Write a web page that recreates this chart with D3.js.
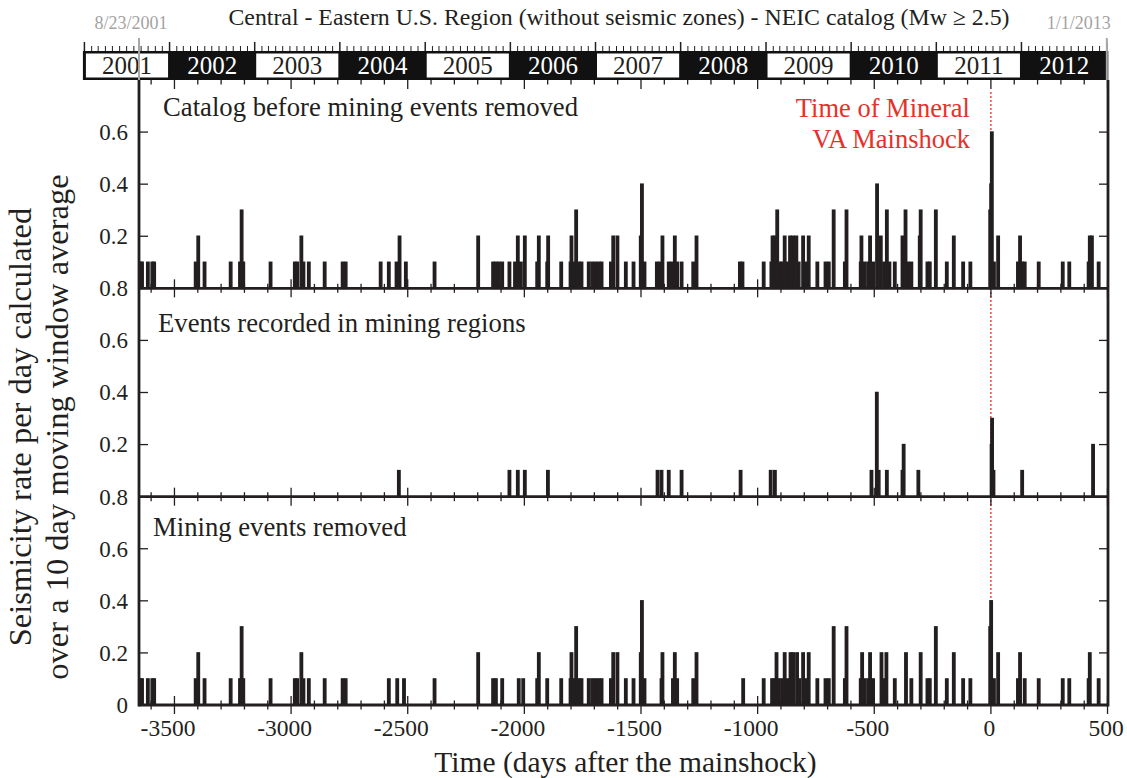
<!DOCTYPE html>
<html>
<head>
<meta charset="utf-8">
<script src="https://cdn.jsdelivr.net/npm/d3@7"></script>
<style>
  body { margin: 0; background: #fff; }
  text { font-family: "Liberation Serif", "Times New Roman", serif; }
</style>
</head>
<body>
<svg id="chart" width="1127" height="778"></svg>
<script>
'use strict'

// ---- data (days after the 2011-08-23 Mineral, VA mainshock, 10-day window rate) ----
const dayDomain = [-3652, 502]
const yearLabels = ['2001', '2002', '2003', '2004', '2005', '2006', '2007', '2008', '2009', '2010', '2011', '2012']
const xTickLabels = [-3500, -3000, -2500, -2000, -1500, -1000, -500, 0, 500]
const panelTitles = ['Catalog before mining events removed', 'Events recorded in mining regions', 'Mining events removed']

const catalogRate = [
  [-3650, 0.1], [-3644, 0.1], [-3619, 0.1], [-3600, 0.1], [-3592, 0.1],
  [-3414, 0.1], [-3403, 0.2], [-3376, 0.1], [-3264, 0.1], [-3224, 0.1], [-3217, 0.3], [-3210, 0.1],
  [-3093, 0.1], [-2989, 0.1], [-2979, 0.1], [-2961, 0.2], [-2952, 0.1], [-2929, 0.1], [-2861, 0.1],
  [-2784, 0.1], [-2771, 0.1], [-2621, 0.1], [-2586, 0.1], [-2553, 0.1], [-2540, 0.2], [-2513, 0.1],
  [-2390, 0.1], [-2203, 0.2], [-2139, 0.1], [-2127, 0.1], [-2114, 0.1], [-2100, 0.1], [-2069, 0.1],
  [-2045, 0.1], [-2033, 0.2], [-2020, 0.1], [-2003, 0.2], [-1950, 0.1], [-1943, 0.2], [-1907, 0.1],
  [-1903, 0.2], [-1847, 0.1], [-1807, 0.1], [-1803, 0.2], [-1793, 0.1], [-1783, 0.3], [-1771, 0.1],
  [-1760, 0.1], [-1729, 0.1], [-1714, 0.1], [-1700, 0.1], [-1686, 0.1], [-1674, 0.1],
  [-1634, 0.1], [-1624, 0.2], [-1606, 0.2], [-1570, 0.1], [-1537, 0.1], [-1506, 0.2], [-1501, 0.4],
  [-1490, 0.1], [-1437, 0.1], [-1425, 0.1], [-1413, 0.2], [-1386, 0.1], [-1374, 0.1], [-1360, 0.2],
  [-1350, 0.1], [-1331, 0.1], [-1281, 0.1], [-1267, 0.2], [-1081, 0.1], [-1070, 0.1], [-979, 0.1],
  [-946, 0.1], [-941, 0.2], [-931, 0.2], [-921, 0.3], [-910, 0.1], [-900, 0.1], [-889, 0.2],
  [-877, 0.1], [-866, 0.2], [-853, 0.2], [-839, 0.2], [-829, 0.1], [-810, 0.2], [-796, 0.1],
  [-786, 0.2], [-749, 0.1], [-714, 0.1], [-700, 0.1], [-679, 0.3], [-631, 0.1], [-624, 0.3],
  [-563, 0.1], [-560, 0.2], [-546, 0.1], [-531, 0.1], [-523, 0.2], [-510, 0.1], [-493, 0.4],
  [-477, 0.2], [-463, 0.1], [-451, 0.3], [-440, 0.1], [-417, 0.1], [-384, 0.2], [-371, 0.3],
  [-360, 0.1], [-346, 0.1], [-310, 0.2], [-306, 0.3], [-277, 0.1], [-267, 0.1], [-241, 0.3],
  [-194, 0.1], [-164, 0.2], [-124, 0.1], [-93, 0.1],
  [-8, 0.3], [-4, 0.4], [-1, 0.6], [8, 0.1], [26, 0.2], [111, 0.1], [120, 0.2], [129, 0.1],
  [140, 0.1], [200, 0.1], [303, 0.1], [331, 0.1], [414, 0.1], [419, 0.2], [428, 0.2], [457, 0.1]
]

const miningRate = [
  [-2543, 0.1], [-2069, 0.1], [-2033, 0.1], [-2003, 0.1], [-1904, 0.1],
  [-1434, 0.1], [-1417, 0.1], [-1386, 0.1], [-1331, 0.1], [-1078, 0.1], [-949, 0.1], [-931, 0.1],
  [-517, 0.1], [-494, 0.4], [-486, 0.1], [-451, 0.1], [-384, 0.1], [-379, 0.2], [-316, 0.1],
  [-2, 0.2], [0, 0.3], [6, 0.1], [129, 0.1], [433, 0.2]
]

const removedRate = [
  [-3650, 0.1], [-3644, 0.1], [-3619, 0.1], [-3600, 0.1], [-3592, 0.1],
  [-3414, 0.1], [-3403, 0.2], [-3376, 0.1], [-3264, 0.1], [-3224, 0.1], [-3217, 0.3], [-3210, 0.1],
  [-3093, 0.1], [-2989, 0.1], [-2979, 0.1], [-2961, 0.2], [-2952, 0.1], [-2929, 0.1], [-2861, 0.1],
  [-2784, 0.1], [-2771, 0.1], [-2586, 0.1], [-2550, 0.1], [-2521, 0.1], [-2390, 0.1],
  [-2203, 0.2], [-2139, 0.1], [-2127, 0.1], [-2100, 0.1], [-2029, 0.1], [-2010, 0.1],
  [-1950, 0.1], [-1943, 0.2], [-1907, 0.1], [-1847, 0.1], [-1807, 0.1], [-1803, 0.2], [-1793, 0.1],
  [-1783, 0.3], [-1771, 0.1], [-1760, 0.1], [-1729, 0.1], [-1714, 0.1], [-1700, 0.1], [-1686, 0.1],
  [-1674, 0.1], [-1634, 0.1], [-1624, 0.2], [-1606, 0.2], [-1570, 0.1], [-1537, 0.1], [-1506, 0.2],
  [-1501, 0.4], [-1490, 0.1], [-1417, 0.1], [-1413, 0.2], [-1368, 0.1], [-1360, 0.2], [-1350, 0.1],
  [-1281, 0.1], [-1267, 0.2], [-1067, 0.1], [-979, 0.1],
  [-943, 0.1], [-932, 0.1], [-924, 0.2], [-914, 0.1], [-900, 0.1], [-889, 0.2], [-877, 0.1],
  [-864, 0.2], [-853, 0.2], [-836, 0.2], [-826, 0.1], [-810, 0.2], [-796, 0.1], [-786, 0.2],
  [-749, 0.1], [-714, 0.1], [-700, 0.1], [-679, 0.3], [-631, 0.1], [-624, 0.3],
  [-563, 0.1], [-557, 0.2], [-546, 0.1], [-531, 0.1], [-523, 0.2], [-510, 0.1], [-474, 0.2],
  [-463, 0.1], [-453, 0.2], [-417, 0.1], [-369, 0.2], [-346, 0.1], [-306, 0.2], [-277, 0.1],
  [-267, 0.1], [-241, 0.3], [-194, 0.1], [-164, 0.2], [-124, 0.1], [-93, 0.1],
  [-8, 0.3], [-4, 0.4], [8, 0.1], [26, 0.2], [111, 0.1], [120, 0.2], [140, 0.1], [200, 0.1],
  [303, 0.1], [331, 0.1], [414, 0.1], [419, 0.2], [457, 0.1]
]

const panels = [catalogRate, miningRate, removedRate]
const windowDays = 10

// ---- layout ----
const plotLeft = 139
const plotRight = 1108
const plotTop = 80
const plotBottom = 705
const panelH = (plotBottom - plotTop) / 3
const ink = '#231f20'
const red = '#e8302a'

const svg = d3.select('#chart')
const mainshock = new Date(Date.UTC(2011, 7, 23))
const toDate = d => d3.utcDay.offset(mainshock, d)

const x = d3.scaleLinear().domain(dayDomain).range([plotLeft, plotRight])
const xt = d3.scaleUtc().domain(dayDomain.map(toDate)).range([plotLeft, plotRight])

// title and date markers
svg.append('text')
  .attr('x', 619).attr('y', 25)
  .attr('text-anchor', 'middle')
  .attr('font-size', 23.8)
  .attr('fill', ink)
  .text('Central - Eastern U.S. Region (without seismic zones) - NEIC catalog (Mw \u2265 2.5)')

svg.append('text')
  .attr('x', x(dayDomain[0]) - 8).attr('y', 29)
  .attr('text-anchor', 'middle')
  .attr('font-size', 18)
  .attr('fill', '#a3a3a3')
  .text('8/23/2001')

const yearStart = new Date(Date.UTC(2001, 0, 1))
const yearEnd = new Date(Date.UTC(2013, 0, 1))

svg.append('text')
  .attr('x', xt(yearEnd) + 4).attr('y', 29)
  .attr('text-anchor', 'end')
  .attr('font-size', 18)
  .attr('fill', '#a3a3a3')
  .text('1/1/2013')

// year bar
const barTop = 51
const barBottom = plotTop
const yearX = y => xt(new Date(Date.UTC(y, 0, 1)))

svg.append('rect')
  .attr('x', xt(yearStart) - 1.5).attr('y', barTop)
  .attr('width', xt(yearEnd) - xt(yearStart) + 3)
  .attr('height', barBottom - barTop)
  .attr('fill', '#111')

const years = svg.append('g')
  .selectAll('g')
  .data(yearLabels)
  .join('g')

years.filter((d, i) => i % 2 === 0)
  .append('rect')
  .attr('x', d => yearX(+d) + 1.5)
  .attr('y', barTop + 2.5)
  .attr('width', d => yearX(+d + 1) - yearX(+d) - 3)
  .attr('height', barBottom - barTop - 5)
  .attr('fill', '#fff')

years.append('text')
  .attr('x', d => (yearX(+d) + yearX(+d + 1)) / 2)
  .attr('y', barBottom - 6.5)
  .attr('text-anchor', 'middle')
  .attr('font-size', 25)
  .attr('fill', (d, i) => i % 2 === 0 ? ink : '#fff')
  .text(d => d)

svg.append('g')
  .selectAll('line')
  .data(d3.utcMonth.range(yearStart, d3.utcDay.offset(yearEnd, 1)))
  .join('line')
  .attr('x1', d => xt(d)).attr('x2', d => xt(d))
  .attr('y1', d => d.getUTCMonth() === 0 ? barTop - 9 : barTop - 5)
  .attr('y2', barTop)
  .attr('stroke', ink)
  .attr('stroke-width', d => d.getUTCMonth() === 0 ? 1.5 : 1)

// gray markers for start and end of the catalog
svg.append('g')
  .selectAll('line')
  .data([toDate(dayDomain[0]), yearEnd])
  .join('line')
  .attr('x1', d => xt(d)).attr('x2', d => xt(d))
  .attr('y1', barTop - 13).attr('y2', barBottom)
  .attr('stroke', '#a8a8a8')
  .attr('stroke-width', 2)

// red line at mainshock
svg.append('line')
  .attr('x1', x(0)).attr('x2', x(0))
  .attr('y1', 92).attr('y2', plotBottom)
  .attr('stroke', red)
  .attr('stroke-width', 1.3)
  .attr('stroke-dasharray', '2,2')

svg.append('text')
  .attr('x', 970).attr('y', 117)
  .attr('text-anchor', 'end')
  .attr('font-size', 26.5)
  .attr('fill', red)
  .text('Time of Mineral')

svg.append('text')
  .attr('x', 970).attr('y', 148)
  .attr('text-anchor', 'end')
  .attr('font-size', 26.5)
  .attr('fill', red)
  .text('VA Mainshock')

// panels
const minorTicks = d3.range(-3600, 501, 100)

panels.forEach((series, i) => {
  const y0 = plotTop + i * panelH
  const base = y0 + panelH
  const y = d3.scaleLinear().domain([0, 0.8]).range([base, y0])
  const g = svg.append('g')

  g.selectAll('rect')
    .data(series.slice().sort((a, b) => a[1] - b[1]))
    .join('rect')
    .attr('x', d => x(d[0]))
    .attr('y', d => y(d[1]))
    .attr('width', d => x(d[0] + windowDays) - x(d[0]))
    .attr('height', d => base - y(d[1]))
    .attr('fill', ink)
    .attr('stroke', ink)
    .attr('stroke-width', 1.5)

  g.append('text')
    .attr('x', [163, 158, 153][i])
    .attr('y', y0 + [36, 44, 39][i])
    .attr('font-size', 26.7)
    .attr('fill', ink)
    .text(panelTitles[i])

  // x ticks crossing the baseline
  g.append('g')
    .selectAll('line')
    .data(minorTicks)
    .join('line')
    .attr('x1', d => x(d)).attr('x2', d => x(d))
    .attr('y1', d => base - (d % 500 === 0 ? 9 : 4.5))
    .attr('y2', d => base + (d % 500 === 0 ? 9 : 4.5))
    .attr('stroke', ink)
    .attr('stroke-width', 1.3)

  // y ticks on both sides, pointing inward
  const yTicks = [0.2, 0.4, 0.6]
  g.append('g')
    .selectAll('line')
    .data(yTicks.flatMap(v => [[plotLeft, plotLeft + 9, v], [plotRight - 9, plotRight, v]]))
    .join('line')
    .attr('x1', d => d[0]).attr('x2', d => d[1])
    .attr('y1', d => y(d[2])).attr('y2', d => y(d[2]))
    .attr('stroke', ink)
    .attr('stroke-width', 1.3)

  const labelValues = i === 0 ? [0.2, 0.4, 0.6] : i === 1 ? [0.2, 0.4, 0.6, 0.8] : [0, 0.2, 0.4, 0.6, 0.8]
  const axis = d3.axisLeft(y)
    .tickValues(labelValues)
    .tickSize(0)
    .tickPadding(11)
    .tickFormat(d => d === 0 ? '0' : d3.format('.1f')(d))
  const ga = g.append('g')
    .attr('transform', `translate(${plotLeft},0)`)
    .call(axis)
  ga.select('.domain').remove()
  ga.selectAll('text')
    .attr('font-family', '"Liberation Serif", serif')
    .attr('font-size', 23)
    .attr('fill', ink)

  g.append('line')
    .attr('x1', plotLeft).attr('x2', plotRight)
    .attr('y1', base).attr('y2', base)
    .attr('stroke', ink)
    .attr('stroke-width', 2.8)
})

// ticks under the year bar, pointing down
svg.append('g')
  .selectAll('line')
  .data(minorTicks)
  .join('line')
  .attr('x1', d => x(d)).attr('x2', d => x(d))
  .attr('y1', plotTop)
  .attr('y2', d => plotTop + (d % 500 === 0 ? 9 : 4.5))
  .attr('stroke', ink)
  .attr('stroke-width', 1.3)

// side frame
svg.append('g')
  .selectAll('line')
  .data([plotLeft, plotRight])
  .join('line')
  .attr('x1', d => d).attr('x2', d => d)
  .attr('y1', plotTop).attr('y2', plotBottom + 1.4)
  .attr('stroke', ink)
  .attr('stroke-width', 2.8)

// bottom axis labels
const xAxis = d3.axisBottom(x)
  .tickValues(xTickLabels)
  .tickSize(0)
  .tickPadding(14)
  .tickFormat(d3.format('d'))
const gx = svg.append('g')
  .attr('transform', `translate(0,${plotBottom})`)
  .call(xAxis)
gx.select('.domain').remove()
gx.selectAll('text')
  .attr('font-family', '"Liberation Serif", serif')
  .attr('font-size', 23.5)
  .attr('fill', ink)
  .attr('dx', d => d < 0 ? -7 : -2)
  .text(d => String(d))

svg.append('text')
  .attr('x', (plotLeft + plotRight) / 2 + 2).attr('y', 772)
  .attr('text-anchor', 'middle')
  .attr('font-size', 29.5)
  .attr('fill', ink)
  .text('Time (days after the mainshock)')

const yTitle = svg.append('text')
  .attr('transform', 'translate(0,427) rotate(-90)')
  .attr('text-anchor', 'middle')
  .attr('font-size', 32.5)
  .attr('fill', ink)
yTitle.append('tspan').attr('x', 0).attr('y', 31).text('Seismicity rate per day calculated')
yTitle.append('tspan').attr('x', 0).attr('y', 68).text('over a 10 day moving window average')
</script>
</body>
</html>
